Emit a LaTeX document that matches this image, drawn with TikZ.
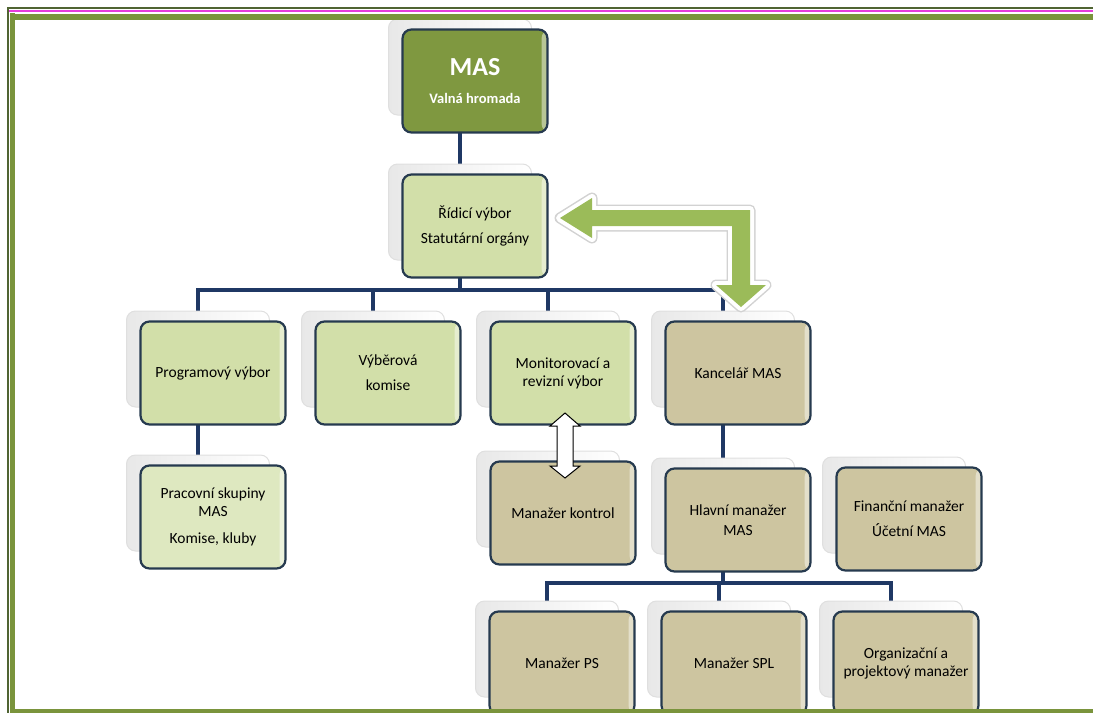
\documentclass[tikz,border=0pt]{standalone}
\usepackage{fontspec}
\setmainfont{Carlito}
\usetikzlibrary{backgrounds}

\definecolor{masgreen}{RGB}{127,152,64}
\definecolor{lightgreen}{RGB}{210,223,169}
\definecolor{palegreen}{RGB}{222,232,192}
\definecolor{boxtan}{RGB}{205,197,160}
\definecolor{boxline}{RGB}{38,58,79}
\definecolor{linenavy}{RGB}{31,56,100}
\definecolor{arrowgreen}{RGB}{155,187,89}
\definecolor{frameolive}{RGB}{122,148,60}
\definecolor{framedark}{RGB}{80,100,50}
\definecolor{framepink}{RGB}{230,60,220}

\tikzset{
  orgbox/.style={draw=boxline, line width=2.2pt, rounded corners=9pt,
    minimum width=145pt, minimum height=103pt, inner sep=2pt, align=center,
    text=black, font=\fontsize{15.5}{18}\selectfont,
    path picture={\fill[white,opacity=0.45]
      ([xshift=-6pt]path picture bounding box.north east)
      rectangle (path picture bounding box.south east);}},
  backbox/.style={draw=gray!25, line width=1pt, rounded corners=9pt,
    left color=gray!18, right color=white,
    minimum width=143pt, minimum height=96pt},
  conn/.style={linenavy, line width=3.5pt},
  bigarrow/.style={line join=round},
}

\begin{document}
\begin{tikzpicture}[x=1pt,y=-1pt]
    \useasboundingbox (0,0) rectangle (1093,713);

    % back boxes
    \node[backbox] (mas-b) at (460,67) {};
    \node[backbox] (ridici-b) at (460,212) {};
    \node[backbox] (prog-b) at (198,359) {};
    \node[backbox] (vyber-b) at (373,359) {};
    \node[backbox] (monit-b) at (548,359) {};
    \node[backbox] (kanc-b) at (723,359) {};
    \node[backbox] (prac-b) at (198,503) {};
    \node[backbox] (kontrol-b) at (548,499) {};
    \node[backbox] (hlavni-b) at (723,506) {};
    \node[backbox] (finan-b) at (894,505) {};
    \node[backbox] (manps-b) at (547,649) {};
    \node[backbox] (manspl-b) at (719,649) {};
    \node[backbox] (organiz-b) at (891,649) {};

    % front boxes
    \node[orgbox, fill=masgreen, text=white] (mas) at (475,81)
        {{\fontsize{26}{28}\bfseries MAS}\\[10pt]{\fontsize{14.5}{16}\bfseries Valná hromada}};
    \node[orgbox, fill=lightgreen] (ridici) at (475,226) {Řídicí výbor\\[7pt]Statutární orgány};
    \node[orgbox, fill=lightgreen] (prog) at (213,373) {Programový výbor};
    \node[orgbox, fill=lightgreen] (vyber) at (388,373) {Výběrová\\[7pt]komise};
    \node[orgbox, fill=lightgreen] (monit) at (563,373) {Monitorovací a\\revizní výbor};
    \node[orgbox, fill=boxtan] (kanc) at (738,373) {Kancelář MAS};
    \node[orgbox, fill=palegreen] (prac) at (213,517) {Pracovní skupiny\\MAS\\[9pt]Komise, kluby};
    \node[orgbox, fill=boxtan] (kontrol) at (563,513) {Manažer kontrol};
    \node[orgbox, fill=boxtan] (hlavni) at (738,520) {Hlavní manažer\\[2pt]MAS};
    \node[orgbox, fill=boxtan] (finan) at (909,519) {Finanční manažer\\[7pt]Účetní MAS};
    \begin{scope}
        \clip (0,0) rectangle (1093,709);
        \node[orgbox, fill=boxtan] (manps) at (562,663) {Manažer PS};
        \node[orgbox, fill=boxtan] (manspl) at (734,663) {Manažer SPL};
        \node[orgbox, fill=boxtan] (organiz) at (906,663) {Organizační a\\projektový manažer};
    \end{scope}

    % connectors
    \begin{scope}[on background layer]
        \coordinate (busA) at (0,290);
        \coordinate (busB) at (0,583);
        \draw[conn] (mas-b.south) -- (ridici-b.north);
        \draw[conn] (ridici-b.south) -- (ridici-b.south |- busA);
        \draw[conn] (prog-b.north) |- (kanc-b.north |- busA) -- (kanc-b.north);
        \draw[conn] (vyber-b.north) -- (vyber-b.north |- busA);
        \draw[conn] (monit-b.north) -- (monit-b.north |- busA);
        \draw[conn] (prog-b.south) -- (prac-b.north);
        \draw[conn] (kanc-b.south) -- (hlavni-b.north);
        \draw[conn] (hlavni-b.south) -- (hlavni-b.south |- busB);
        \draw[conn] (manps-b.north) |- (organiz-b.north |- busB) -- (organiz-b.north);
        \draw[conn] (manspl-b.north) -- (manspl-b.north |- busB);
    \end{scope}

    % green arrow
    \def\greenpath{(560,218) -- (592,198) -- (592,210) -- (750,210) -- (750,285)
        -- (766,285) -- (741,307) -- (716,285) -- (732,285) -- (732,226)
        -- (592,226) -- (592,238) -- cycle}
    \draw[bigarrow, gray!35, line width=11pt] \greenpath;
    \draw[bigarrow, white, line width=8pt] \greenpath;
    \fill[arrowgreen] \greenpath;

    % white double arrow
    \draw[fill=white, line width=1pt, line join=miter] (565,413) -- (580,426) -- (573,426)
        -- (573,466) -- (580,466) -- (565,478) -- (550,466) -- (557,466)
        -- (557,426) -- (550,426) -- cycle;

    % frame
    \fill[framedark] (7,7.4) rectangle (1093,8.6);
    \fill[framepink] (9,10.4) rectangle (1093,11.6);
    \fill[frameolive] (10,13.5) rectangle (1093,19.5);
    \fill[framedark] (7,8) rectangle (9,713);
    \fill[frameolive] (10,13) rectangle (15,713);
    \fill[frameolive] (10,709) rectangle (1093,713);
\end{tikzpicture}
\end{document}
